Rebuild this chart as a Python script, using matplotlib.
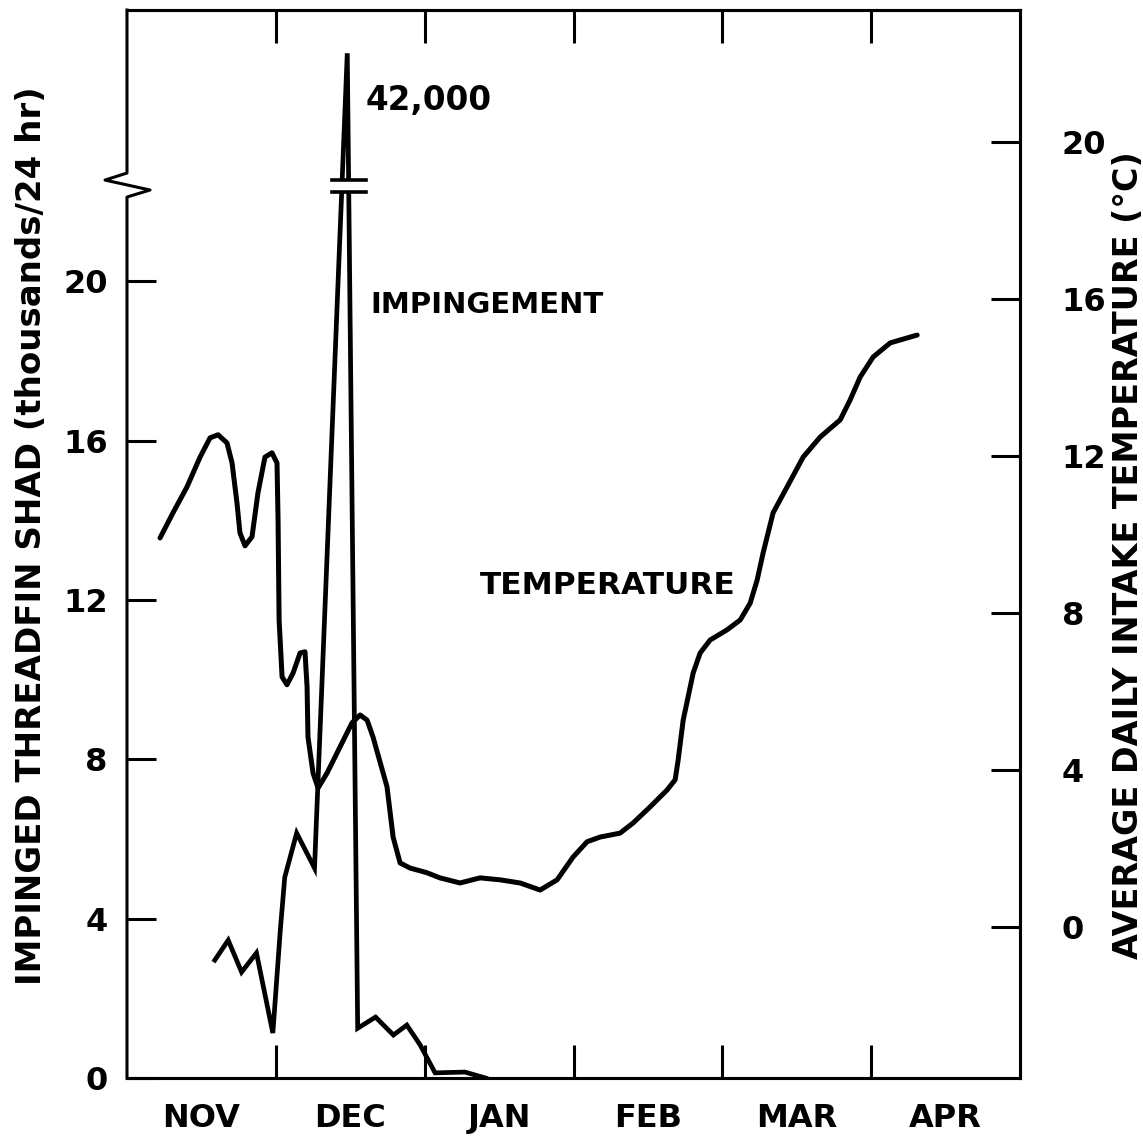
#!/usr/bin/env python3
"""Impinged threadfin shad and intake temperature, Nov - Apr."""

import matplotlib

matplotlib.use("Agg")
import matplotlib.pyplot as plt
import numpy as np

months = ["NOV", "DEC", "JAN", "FEB", "MAR", "APR"]

# x is in months after 1 Nov (0 = 1 Nov, 1 = 1 Dec, ...)
imp_x = [0.59, 0.68, 0.77, 0.87, 0.98, 1.03, 1.06, 1.14, 1.26,
         1.48, 1.55, 1.67, 1.79, 1.88, 1.97, 2.07, 2.27, 2.41]
imp_thousands = [2.96, 3.46, 2.66, 3.14, 1.13, 3.71, 5.04, 6.15, 5.27,
                 42.0, 1.25, 1.53, 1.08, 1.33, 0.83, 0.13, 0.15, 0.0]

temp_x = [0.222, 0.309, 0.403, 0.491, 0.558, 0.612, 0.672, 0.706, 0.739,
          0.759, 0.793, 0.840, 0.880, 0.927, 0.974, 1.008, 1.015, 1.022,
          1.042, 1.075, 1.116, 1.163, 1.196, 1.210, 1.216, 1.250, 1.284,
          1.344, 1.445, 1.512, 1.566, 1.613, 1.653, 1.747, 1.788, 1.835,
          1.902, 2.016, 2.103, 2.238, 2.372, 2.507, 2.641, 2.776, 2.890,
          2.997, 3.091, 3.179, 3.313, 3.401, 3.515, 3.629, 3.683, 3.703,
          3.737, 3.770, 3.804, 3.851, 3.918, 4.032, 4.120, 4.187, 4.234,
          4.274, 4.341, 4.435, 4.543, 4.657, 4.792, 4.859, 4.926, 5.013,
          5.128, 5.309]
temp_c = [9.91, 10.55, 11.21, 11.97, 12.46, 12.54, 12.33, 11.82, 10.80,
          10.04, 9.71, 9.94, 11.06, 11.97, 12.08, 11.82, 10.37, 7.82,
          6.37, 6.17, 6.47, 6.98, 7.01, 6.11, 4.84, 3.92, 3.54,
          3.92, 4.69, 5.20, 5.40, 5.27, 4.84, 3.57, 2.29, 1.63,
          1.50, 1.38, 1.25, 1.12, 1.25, 1.20, 1.12, 0.94, 1.20,
          1.78, 2.17, 2.29, 2.39, 2.65, 3.06, 3.49, 3.75, 4.25,
          5.27, 5.86, 6.47, 6.98, 7.31, 7.57, 7.82, 8.25, 8.84,
          9.53, 10.55, 11.21, 11.97, 12.48, 12.92, 13.43, 14.01, 14.52,
          14.88, 15.08]

imp_ticks = [0, 4, 8, 12, 16, 20]
temp_ticks = [0, 4, 8, 12, 16, 20]

BREAK = 22.46    # left axis is broken above this value
SQUEEZE = 0.167  # compression of the part above the break
FONT = "DejaVu Sans"


def forward(v):
    v = np.asarray(v, dtype=float)
    return np.where(v <= BREAK, v, BREAK + (v - BREAK) * SQUEEZE)


def inverse(u):
    u = np.asarray(u, dtype=float)
    return np.where(u <= BREAK, u, BREAK + (u - BREAK) / SQUEEZE)


def main():
    plt.rcParams["font.family"] = FONT
    plt.rcParams["font.weight"] = "bold"
    plt.rcParams["axes.labelweight"] = "bold"

    fig = plt.figure(figsize=(11.43, 11.42), dpi=100)
    ax = fig.add_axes([0.1111, 0.0560, 0.7813, 0.9352])
    ax2 = ax.twinx()

    draw_lines(ax, ax2)
    style_axes(ax, ax2)
    draw_breaks(ax)
    add_labels(ax, ax2)

    fig.savefig("out.png", dpi=100, facecolor="white")


def draw_lines(ax, ax2):
    ax.set_yscale("function", functions=(forward, inverse))
    ax.plot(imp_x, imp_thousands, color="black", lw=3.4,
            solid_joinstyle="miter", zorder=3)
    ax2.plot(temp_x, temp_c, color="black", lw=3.6,
             solid_joinstyle="round", solid_capstyle="round", zorder=3)
    ax.set_xlim(0, 6)
    ax.set_ylim(0, 48.5)
    ax2.set_ylim(-3.85, 23.36)


def style_axes(ax, ax2):
    for a in (ax, ax2):
        for side in a.spines:
            a.spines[side].set_linewidth(2.2)
        a.spines["left"].set_visible(False)

    ax.set_xticks(range(1, 6))
    ax.set_xticklabels([])
    ax.set_xticks(np.arange(len(months)) + 0.5, minor=True)
    ax.set_xticklabels(months, minor=True, fontsize=23)
    ax.tick_params(axis="x", which="major", direction="in", length=24,
                   width=2.2, top=True)
    ax.tick_params(axis="x", which="minor", length=0, pad=18)

    ax.set_yticks(imp_ticks)
    ax.set_yticklabels([str(t) for t in imp_ticks], fontsize=23)
    ax.yaxis.set_minor_locator(plt.NullLocator())
    ax.tick_params(axis="y", direction="in", length=21, width=2.2, pad=14)

    ax2.set_yticks(temp_ticks)
    ax2.set_yticklabels([str(t) for t in temp_ticks], fontsize=23)
    ax2.tick_params(axis="y", direction="in", length=21, width=2.2, pad=30)


def draw_breaks(ax):
    # left spine with the zigzag break
    sx = [0, 0, 0.0258, -0.0246, 0, 0]
    sy = [0, 0.8249, 0.8315, 0.8408, 0.8474, 1]
    ax.plot(sx, sy, color="black", lw=2.2,
            transform=ax.transAxes, clip_on=False, zorder=4)

    # gap with two bars across the spike
    ax.fill_between([0.231, 0.266], 0.8305, 0.8398, color="white",
                    transform=ax.transAxes, zorder=5)
    for y in (0.8296, 0.8408):
        ax.plot([0.2296, 0.2676], [y, y], color="black", lw=2.6,
                transform=ax.transAxes, zorder=6)


def add_labels(ax, ax2):
    peak = int(np.argmax(imp_thousands))
    ax.annotate("42,000", xy=(imp_x[peak], imp_thousands[peak]),
                xytext=(18, -47), textcoords="offset pixels",
                fontsize=23.5, va="center", ha="left")
    ax.text(1.633, 19.4, "IMPINGEMENT", fontsize=21, va="center")
    ax2.text(2.372, 8.71, "TEMPERATURE", fontsize=22.5, va="center")

    ax.set_ylabel("IMPINGED THREADFIN SHAD (thousands/24 hr)", fontsize=24.5)
    ax.yaxis.set_label_coords(-0.1064, 0.508)
    ax.yaxis.label.set_verticalalignment("center")
    ax2.set_ylabel("AVERAGE DAILY INTAKE TEMPERATURE (°C)", fontsize=24)
    ax2.yaxis.set_label_coords(1.1215, 0.490)
    ax2.yaxis.label.set_verticalalignment("center")


if __name__ == "__main__":
    main()
